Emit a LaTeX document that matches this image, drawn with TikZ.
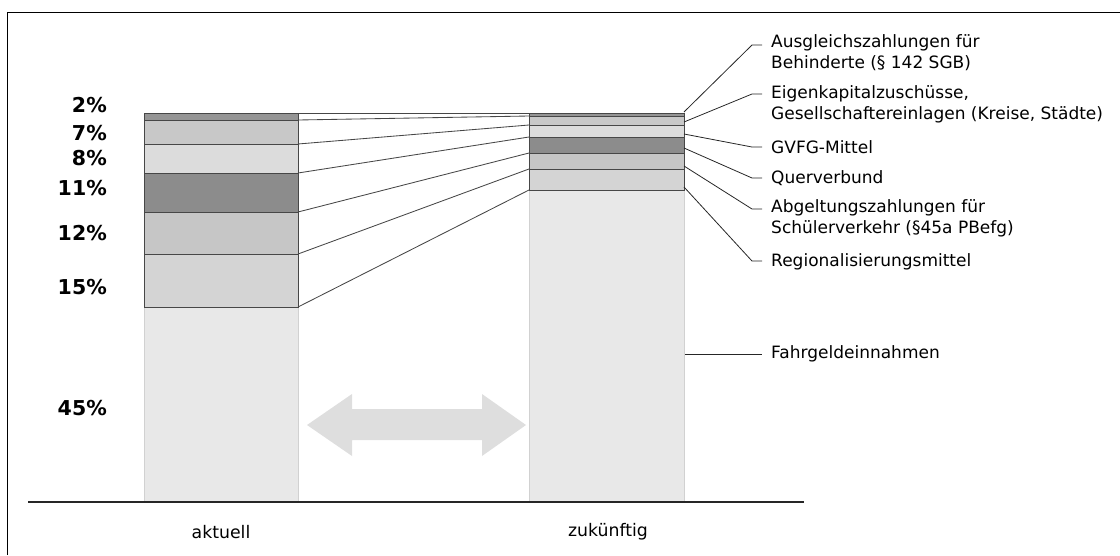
\documentclass[tikz,border=0pt]{standalone}
\usepackage{fontspec}
\setmainfont{DejaVu Sans}
\definecolor{cA}{HTML}{959595}
\definecolor{cB}{HTML}{C8C8C8}
\definecolor{cC}{HTML}{DCDCDC}
\definecolor{cD}{HTML}{8C8C8C}
\definecolor{cE}{HTML}{C6C6C6}
\definecolor{cF}{HTML}{D4D4D4}
\definecolor{cG}{HTML}{E8E8E8}
\definecolor{arrowgray}{HTML}{DEDEDE}
\begin{document}
\begin{tikzpicture}[x=1pt,y=-1pt,
  segline/.style={draw=black!72, line width=0.9pt},
  conn/.style={draw=black!72, line width=0.85pt},
  lead/.style={draw=black!85, line width=0.8pt},
  lab/.style={anchor=west, align=left, font=\fontsize{17}{21}\selectfont, inner sep=0pt},
  pct/.style={anchor=east, font=\fontsize{20.5}{20}\selectfont\bfseries, inner sep=0pt},
  cat/.style={font=\fontsize{17.3}{20}\selectfont, inner sep=0pt}]
\useasboundingbox (0,0) rectangle (1120,555);
% frame
\draw[line width=0.9pt] (7,555) -- (7,12) -- (1120,12);
% lower (45%) parts of bars
\filldraw[fill=cG, draw=black!18, line width=0.6pt] (144,307) rectangle (298,502);
\filldraw[fill=cG, draw=black!18, line width=0.6pt] (529,190) rectangle (684,502);
% left bar segments
\foreach \ya/\yb/\c in {113/120/cA,120/144/cB,144/173/cC,173/212/cD,212/254/cE,254/307/cF}
  \filldraw[fill=\c, segline] (144,\ya) rectangle (298,\yb);
% right bar segments
\foreach \ya/\yb/\c in {113/116/cA,116/125/cB,125/137/cC,137/153/cD,153/169/cE,169/190/cF}
  \filldraw[fill=\c, segline] (529,\ya) rectangle (684,\yb);
% boundary coordinates
\foreach \i/\y in {0/113,1/120,2/144,3/173,4/212,5/254,6/307}
  \coordinate (L\i) at (298,\y);
\foreach \i/\y in {0/113,1/116,2/125,3/137,4/153,5/169,6/190}
  \coordinate (R\i) at (529,\y);
\foreach \i in {0,...,6}
  \draw[conn] (L\i) -- (R\i);
% axis
\draw[line width=1.3pt, black!85] (28,502) -- (804,502);
% double arrow
\fill[arrowgray] (307,425) -- (352,394) -- (352,409) -- (482,409) -- (482,394)
  -- (526,425) -- (482,456) -- (482,440) -- (352,440) -- (352,456) -- cycle;
% percentages
\node[pct] (p2) at (107,105) {2\%};
\node[pct] (p7) at (107,133) {7\%};
\node[pct] (p8) at (107,158) {8\%};
\node[pct] (p11) at (107,188) {11\%};
\node[pct] (p12) at (107,233) {12\%};
\node[pct] (p15) at (107,287) {15\%};
\node[pct] (p45) at (107,408) {45\%};
% category labels
\node[cat] (akt) at (221,532) {aktuell};
\node[cat] (zuk) at (608,532) {zukünftig};
% right labels
\node[lab, anchor=north west] (t1) at (771,34) {Ausgleichszahlungen für\\Behinderte (§ 142 SGB)};
\node[lab, anchor=north west] (t2) at (771,85) {Eigenkapitalzuschüsse,\\Gesellschaftereinlagen (Kreise, Städte)};
\node[lab] (t3) at (771,147) {GVFG-Mittel};
\node[lab] (t4) at (771,178) {Querverbund};
\node[lab, anchor=north west] (t5) at (771,199) {Abgeltungszahlungen für\\Schülerverkehr (§45a PBefg)};
\node[lab] (t6) at (771,262) {Regionalisierungsmittel};
\node[lab] (t7) at (771,354) {Fahrgeldeinnahmen};
% leader lines
\coordinate (s1) at (684,112);
\coordinate (s2) at (684,122);
\coordinate (s3) at (684,134);
\coordinate (s4) at (684,148);
\coordinate (s5) at (684,166);
\coordinate (s6) at (684,187);
\coordinate (s7) at (685,354);
\draw[lead] (s1) -- (752,45) -- (762,45);
\draw[lead] (s2) -- (752,94) -- (762,94);
\draw[lead] (s3) -- (752,147) -- (762,147);
\draw[lead] (s4) -- (752,178) -- (762,178);
\draw[lead] (s5) -- (752,209) -- (762,209);
\draw[lead] (s6) -- (752,261) -- (762,261);
\draw[lead] (s7) -- (762,354);
\end{tikzpicture}
\end{document}
